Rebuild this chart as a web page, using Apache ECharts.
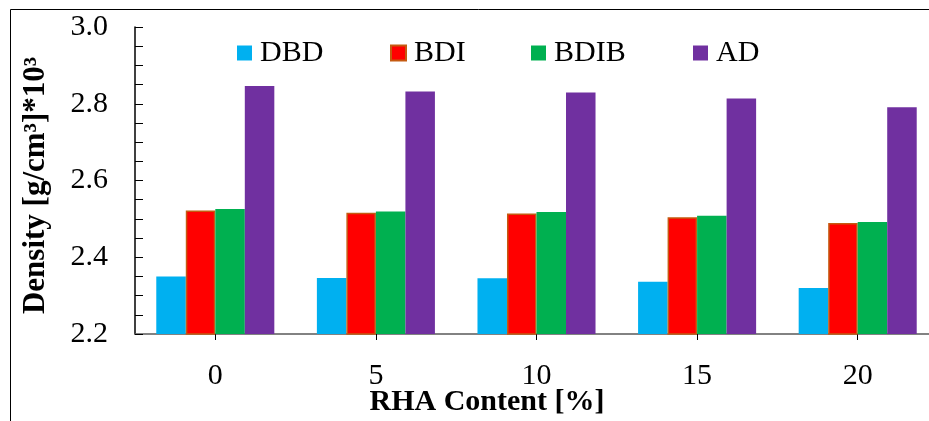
<!DOCTYPE html>
<html>
<head>
<meta charset="utf-8">
<script src="https://cdn.jsdelivr.net/npm/echarts@6/dist/echarts.min.js"></script>
<style>
html,body{margin:0;padding:0;background:#fff;overflow:hidden;width:929px;height:421px;}
#c{width:945px;height:421px;}
</style>
</head>
<body>
<div id="c"></div>
<script>
const categories = ['0', '5', '10', '15', '20'];
const seriesNames = ['DBD', 'BDI', 'BDIB', 'AD'];
const dbd  = [2.350, 2.346, 2.345, 2.336, 2.320];
const bdi  = [2.522, 2.516, 2.514, 2.504, 2.489];
const bdib = [2.526, 2.519, 2.518, 2.508, 2.492];
const ad   = [2.846, 2.832, 2.829, 2.814, 2.791];
const yTickLabels = ['2.2', '2.4', '2.6', '2.8', '3.0'];

const FONT = "'Liberation Serif', 'Times New Roman', serif";
const colors = ['#00B0F0', '#FF0000', '#00B050', '#7030A0'];
const borders = [null, '#C55A11', null, null];
const dataSets = [dbd, bdi, bdib, ad];
const legendLeft = [237, 390, 531, 693];

const chart = echarts.init(document.getElementById('c'), null, {renderer: 'canvas'});

const option = {
  animation: false,
  backgroundColor: '#fff',
  textStyle: {fontFamily: FONT},
  grid: {left: 135, top: 27, width: 803, height: 307, containLabel: false},
  legend: seriesNames.map((n, i) => ({
    data: [n],
    left: legendLeft[i],
    top: 38,
    padding: 0,
    itemWidth: 15,
    itemHeight: 15,
    itemGap: 8,
    icon: 'rect',
    textStyle: {fontFamily: FONT, fontSize: 30, color: '#000', padding: [0, 0, 0, 3]}
  })),
  xAxis: {
    type: 'category',
    data: categories,
    axisLine: {lineStyle: {color: '#595959', width: 1.5}},
    axisTick: {show: true, alignWithLabel: true, length: 6, inside: false, lineStyle: {color: '#000'}},
    axisLabel: {fontFamily: FONT, fontSize: 30, color: '#000', margin: 27},
    splitLine: {show: false}
  },
  yAxis: {
    type: 'value',
    min: 2.2,
    max: 3.0,
    interval: 0.05,
    name: 'Density [g/cm³]*10³',
    nameLocation: 'middle',
    nameGap: 84,
    nameRotate: 90,
    nameTextStyle: {fontFamily: FONT, fontSize: 31, fontWeight: 'bold', color: '#000', padding: [0, 10, 0, 0]},
    axisLine: {show: true, lineStyle: {color: '#000', width: 1.5}},
    axisTick: {show: true, inside: true, length: 8, lineStyle: {color: '#000'}},
    axisLabel: {
      fontFamily: FONT, fontSize: 30, color: '#000', margin: 27,
      formatter: function (v) {
        const r = Math.round(v * 100);
        if (r % 20 !== 0) return '';
        const lbl = (r / 100).toFixed(1);
        return yTickLabels.indexOf(lbl) >= 0 ? lbl : '';
      }
    },
    splitLine: {show: false}
  },
  graphic: [
    {type: 'rect', shape: {x: 10.5, y: 9.5, width: 1000, height: 500},
     style: {fill: 'none', stroke: '#000', lineWidth: 1}, z: 0, silent: true},
    {type: 'text', x: 487, y: 402,
     style: {text: 'RHA Content [%]', font: "bold 30px " + FONT, fill: '#000',
             textAlign: 'center', textVerticalAlign: 'middle'}}
  ],
  series: seriesNames.map((n, i) => ({
    name: n,
    type: 'bar',
    data: dataSets[i],
    barGap: '0%',
    barCategoryGap: '26.5%',
    itemStyle: borders[i] ? {color: colors[i], borderColor: borders[i], borderWidth: 1.5} : {color: colors[i]}
  }))
};
chart.setOption(option);
</script>
</body>
</html>
